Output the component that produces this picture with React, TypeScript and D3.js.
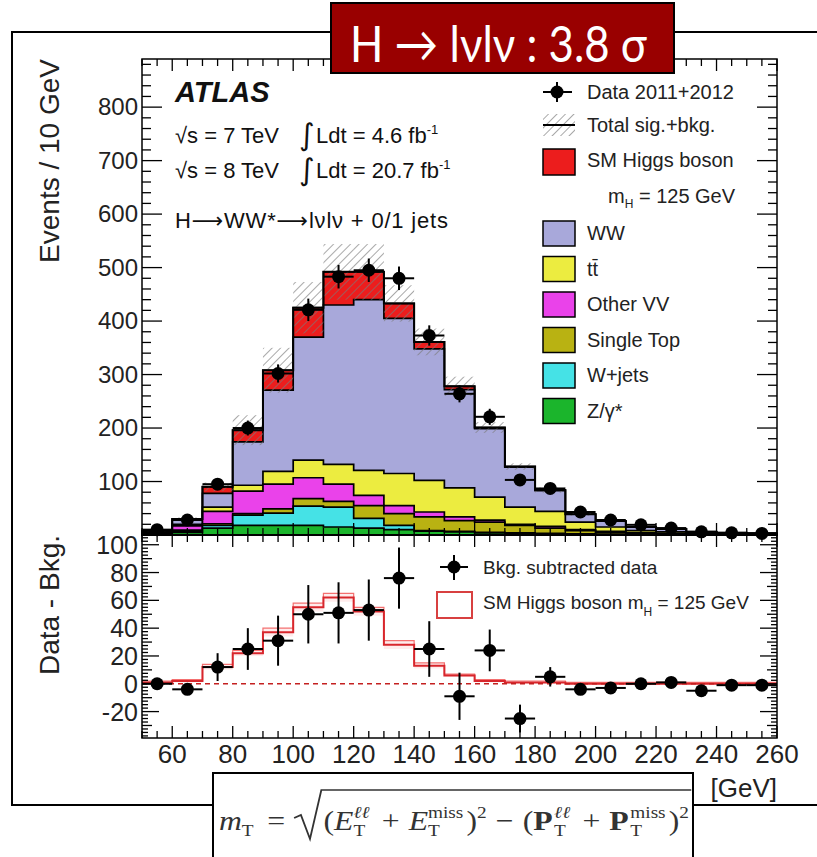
import React from 'react';
import * as d3 from 'd3';

// lower edges of the 10 GeV bins in m_T
const binLow = [50, 60, 70, 80, 90, 100, 110, 120, 130, 140, 150, 160, 170, 180, 190, 200, 210, 220, 230, 240, 250];

// stacked expectation, bottom of the stack first
const zGamma = [2, 5, 13, 18, 18, 18, 15, 13, 10, 7, 6, 4, 3, 2, 1, 1, 1, 0, 0, 0, 0];
const wJets = [1, 2, 5, 19, 23, 36, 37, 18, 8, 1, 1, 1, 1, 1, 1, 0, 0, 0, 0, 0, 0];
const singleTop = [1, 2, 3, 3, 8, 14, 11, 24, 22, 26, 20, 19, 14, 10, 6, 4, 2, 2, 1, 1, 0];
const otherVV = [1, 8, 23, 42, 46, 39, 32, 19, 15, 9, 7, 4, 2, 3, 2, 2, 1, 1, 1, 0, 0];
const ttbar = [1, 3, 8, 11, 24, 33, 37, 47, 60, 59, 54, 43, 32, 28, 14, 8, 4, 3, 1, 1, 1];
const ww = [1, 8, 26, 81, 152, 230, 298, 319, 290, 246, 184, 128, 75, 39, 15, 11, 7, 5, 3, 2, 2];
const higgs = [1, 2, 12, 22, 37, 55, 62, 52, 28, 13, 6, 2, 1, 1, 0, 0, 0, 0, 0, 0, 0];
const totalErr = [1, 3, 8, 28, 42, 48, 52, 52, 34, 25, 18, 10, 6, 5, 3, 2, 2, 1, 1, 1, 1];

// observed events
const dataVals = [10, 28, 95, 200, 302, 421, 483, 495, 480, 373, 264, 221, 103, 87, 43, 28, 19, 13, 6, 4, 3];
const dataErr = [3, 5, 10, 14, 17, 21, 22, 22, 22, 19, 16, 15, 10, 9, 7, 5, 4, 4, 2, 2, 2];

// lower panel: data minus background
const bkgSub = [0, -4, 12, 25, 31, 50, 51, 53, 76, 25, -9, 24, -25, 5, -4, -3, 0, 1, -5, -1, -1];
const bkgSubErr = [4, 4, 10, 15, 18, 21, 22, 22, 22, 20, 17, 15, 10, 7, 4, 4, 3, 3, 3, 2, 2];
const higgsErr = [1, 1, 2, 2, 3, 3, 3, 3, 3, 2, 1, 1, 1, 1, 1, 1, 1, 1, 1, 1, 1];

const yTicksTop = [100, 200, 300, 400, 500, 600, 700, 800];
const yTicksBottom = [-20, 0, 20, 40, 60, 80, 100];
const xTicks = [60, 80, 100, 120, 140, 160, 180, 200, 220, 240, 260];

const keys = ['zGamma', 'wJets', 'singleTop', 'otherVV', 'ttbar', 'ww', 'higgs'];
const colors: Record<string, string> = {
  zGamma: '#1bb52c',
  wJets: '#45e2e6',
  singleTop: '#b9b212',
  otherVV: '#ea42ea',
  ttbar: '#ecec40',
  ww: '#a8a8da',
  higgs: '#ec1d1d',
};
const legendBoxes = [
  { key: 'ww', label: 'WW' },
  { key: 'ttbar', label: 'tt\u0304' },
  { key: 'otherVV', label: 'Other VV' },
  { key: 'singleTop', label: 'Single Top' },
  { key: 'wJets', label: 'W+jets' },
  { key: 'zGamma', label: 'Z/\u03b3*' },
];

const FONT = '"Liberation Sans", Arial, Helvetica, sans-serif';
const BIN = 10;
const X0 = 142, X1 = 777;
const TOP0 = 59, TOP1 = 535;
const BOT0 = 535, BOT1 = 738;

const x = d3.scaleLinear().domain([50, 260]).range([X0, X1]);
const yU = d3.scaleLinear().domain([0, 890]).range([TOP1, TOP0]);
const yL = d3.scaleLinear().domain([-39, 107]).range([BOT1, BOT0]);

const stepPts = (vals: number[]) =>
  vals.flatMap((v, i) => [[binLow[i], v], [binLow[i] + BIN, v]] as [number, number][]);

const stepArea = (vals: number[], y: d3.ScaleLinear<number, number>) =>
  d3.area<[number, number]>().x(d => x(d[0])).y0(y(0)).y1(d => y(d[1]))(stepPts(vals)) || '';

const stepLine = (vals: number[], y: d3.ScaleLinear<number, number>) =>
  d3.line<[number, number]>().x(d => x(d[0])).y(d => y(d[1]))(stepPts(vals)) || '';

function Point({ cx, cy, x0, x1, y0, y1 }: any) {
  return (
    <g stroke="#000" strokeWidth={2}>
      <line x1={x0} x2={x1} y1={cy} y2={cy} />
      <line x1={cx} x2={cx} y1={y0} y2={y1} />
      <circle cx={cx} cy={cy} r={6.5} fill="#000" stroke="none" />
    </g>
  );
}

// formula m_T laid out token by token
function Formula() {
  const F = 28, S = 17;
  const toks: any[] = [];
  let cx = 0;
  const put = (t: string, w: number, o: any = {}) => { toks.push({ t, x: cx, ...o }); cx += w; };
  const stack = (sup: string, supW: number) => {
    toks.push({ t: sup, x: cx, size: S, dy: -12, it: sup !== 'miss' });
    toks.push({ t: 'T', x: cx, size: S, dy: 6 });
    cx += Math.max(supW, 11) + 3;
  };
  put('m', 0.72 * F, { it: true });
  put('T', 0.61 * S + 2, { size: S, dy: 6 });
  cx += 10; put('=', 0.56 * F); cx += 8;
  const radX = cx; cx += 26;
  put('(', 0.33 * F);
  put('E', 0.61 * F, { it: true }); stack('\u2113\u2113', 14);
  cx += 8; put('+', 0.56 * F); cx += 8;
  put('E', 0.61 * F, { it: true }); stack('miss', 31);
  put(')', 0.33 * F); put('2', 0.5 * S, { size: S, dy: -12 });
  cx += 8; put('\u2212', 0.56 * F); cx += 8;
  put('(', 0.33 * F);
  put('P', 0.66 * F, { bold: true }); stack('\u2113\u2113', 14);
  cx += 8; put('+', 0.56 * F); cx += 8;
  put('P', 0.66 * F, { bold: true }); stack('miss', 31);
  put(')', 0.33 * F); put('2', 0.5 * S, { size: S, dy: -12 });
  const endX = cx;
  const sx = (689 - 219) / endX;
  const base = 830;
  return (
    <g transform={`translate(219,0) scale(${sx},1)`} fill="#333" fontFamily='"Liberation Serif", "DejaVu Serif", serif'>
      {toks.map((k, i) => (
        <text key={i} x={k.x} y={base + (k.dy || 0)} fontSize={k.size || F}
          fontStyle={k.it ? 'italic' : 'normal'} fontWeight={k.bold ? 'bold' : 'normal'}>{k.t}</text>
      ))}
      <path d={`M${radX} ${base - 12} L${radX + 6} ${base - 15} L${radX + 14} ${base + 9} L${radX + 24} ${790} L${endX + 2} ${790}`}
        fill="none" stroke="#333" strokeWidth={1.6} />
    </g>
  );
}

export default function App() {
  const rows = binLow.map((b, i) => ({
    zGamma: zGamma[i], wJets: wJets[i], singleTop: singleTop[i], otherVV: otherVV[i],
    ttbar: ttbar[i], ww: ww[i], higgs: higgs[i],
  }));
  const stacked = d3.stack<any>().keys(keys)(rows);
  const total = stacked[stacked.length - 1].map(d => d[1]);

  const hi = higgs.map((v, i) => v + higgsErr[i]);
  const lo = higgs.map((v, i) => v - higgsErr[i]);
  const bandPts = stepPts(higgs);
  const band = d3.area<[number, number]>()
    .x(d => x(d[0]))
    .y0((d, i) => yL(lo[Math.floor(i / 2)]))
    .y1((d, i) => yL(hi[Math.floor(i / 2)]))(bandPts) || '';

  const xMinor = d3.range(50, 261, 5);
  const yMinorU = d3.range(0, 890, 20);
  const yMinorL = d3.range(-37.5, 107, 2.5);

  return (
    <svg width={817} height={857} style={{ position: 'absolute', left: 0, top: 0, background: '#fff' }}>
      <defs>
        <pattern id="hatch" patternUnits="userSpaceOnUse" width={6} height={6} patternTransform="rotate(45)">
          <line x1={0} y1={0} x2={0} y2={6} stroke="#7a7a7a" strokeWidth={1.3} />
        </pattern>
      </defs>
      <rect width={817} height={857} fill="#fff" />
      {/* outer frame */}
      <rect x={12} y={32} width={830} height={773} fill="none" stroke="#000" strokeWidth={2} />

      {/* upper panel: stacked expectation */}
      {stacked.slice().reverse().map(s => (
        <path key={s.key} d={stepArea(s.map(d => d[1]), yU)} fill={colors[s.key]} stroke="#000" strokeWidth={1.7} />
      ))}
      {total.map((t, i) => (
        <rect key={i} x={x(binLow[i])} width={x(binLow[i] + BIN) - x(binLow[i])}
          y={yU(t + totalErr[i])} height={yU(t - totalErr[i]) - yU(t + totalErr[i])} fill="url(#hatch)" />
      ))}
      <path d={stepLine(total, yU)} fill="none" stroke="#000" strokeWidth={2} />
      {dataVals.map((v, i) => (
        <Point key={i} cx={x(binLow[i] + BIN / 2)} cy={yU(v)} x0={x(binLow[i])} x1={x(binLow[i] + BIN)}
          y0={yU(v - dataErr[i])} y1={yU(v + dataErr[i])} />
      ))}

      {/* upper panel axes */}
      <g stroke="#000" strokeWidth={1.3}>
        {yMinorU.map(v => {
          const len = v % 100 === 0 ? 20 : 9;
          return (
            <g key={v}>
              <line x1={X0} x2={X0 + len} y1={yU(v)} y2={yU(v)} />
              <line x1={X1} x2={X1 - len} y1={yU(v)} y2={yU(v)} />
            </g>
          );
        })}
        {xMinor.map(v => {
          const len = v % 20 === 0 ? 12 : 7;
          return (
            <g key={v}>
              <line x1={x(v)} x2={x(v)} y1={TOP0} y2={TOP0 + len} />
              <line x1={x(v)} x2={x(v)} y1={TOP1} y2={TOP1 - len} />
            </g>
          );
        })}
      </g>
      <rect x={X0} y={TOP0} width={X1 - X0} height={TOP1 - TOP0} fill="none" stroke="#000" strokeWidth={1.5} />
      <g fontFamily={FONT} fontSize={24} fill="#222" textAnchor="end">
        {yTicksTop.map(v => <text key={v} x={X0 - 4} y={yU(v) + 8}>{v}</text>)}
      </g>
      <text transform={`translate(59,${TOP0}) rotate(-90)`} textAnchor="end" fontFamily={FONT} fontSize={28} fill="#222">Events / 10 GeV</text>

      {/* ATLAS labels */}
      <g fontFamily={FONT} fill="#111">
        <text x={175} y={102} fontSize={29} fontWeight="bold" fontStyle="italic">ATLAS</text>
        <text x={175} y={143} fontSize={22}>{'\u221As = 7 TeV'}</text>
        <text x={299} y={145} fontSize={30} fontFamily='"DejaVu Sans", sans-serif'>{'\u222B'}</text>
        <text x={316} y={143} fontSize={22}>Ldt = 4.6 fb<tspan dy={-9} fontSize={13}>-1</tspan></text>
        <text x={175} y={178} fontSize={22}>{'\u221As = 8 TeV'}</text>
        <text x={299} y={180} fontSize={30} fontFamily='"DejaVu Sans", sans-serif'>{'\u222B'}</text>
        <text x={316} y={178} fontSize={22}>Ldt = 20.7 fb<tspan dy={-9} fontSize={13}>-1</tspan></text>
        <text x={175} y={228} fontSize={22} textLength={273} lengthAdjust="spacing">
          H<tspan fontFamily='"DejaVu Sans", sans-serif'>{'\u27f6'}</tspan>WW*<tspan fontFamily='"DejaVu Sans", sans-serif'>{'\u27f6'}</tspan>{'l\u03bdl\u03bd + 0/1 jets'}
        </text>
      </g>

      {/* upper legend */}
      <g fontFamily={FONT} fontSize={20} fill="#222">
        <Point cx={557} cy={92} x0={543} x1={572} y0={82} y1={102} />
        <text x={587} y={99}>Data 2011+2012</text>
        <rect x={543} y={114} width={32} height={22} fill="url(#hatch)" />
        <line x1={543} x2={575} y1={125} y2={125} stroke="#000" strokeWidth={2} />
        <text x={587} y={132}>Total sig.+bkg.</text>
        <rect x={543} y={149} width={32} height={26} fill={colors.higgs} stroke="#000" strokeWidth={1.5} />
        <text x={587} y={167}>SM Higgs boson</text>
        <text x={608} y={203}>m<tspan dy={5} fontSize={12}>H</tspan><tspan dy={-5}> = 125 GeV</tspan></text>
        {legendBoxes.map((e, i) => (
          <g key={e.key}>
            <rect x={543} y={221 + i * 35.5} width={32} height={25} fill={colors[e.key]} stroke="#000" strokeWidth={1.5} />
            <text x={587} y={240 + i * 35.5}>{e.label}</text>
          </g>
        ))}
      </g>

      {/* lower panel */}
      <path d={band} fill="#ff6060" fillOpacity={0.12} stroke="none" />
      <path d={stepLine(hi, yL)} fill="none" stroke="#f47070" strokeWidth={1.2} />
      <path d={stepLine(higgs, yL)} fill="none" stroke="#d8262c" strokeWidth={2} />
      <line x1={X0} x2={X1} y1={yL(0)} y2={yL(0)} stroke="#c42020" strokeWidth={1.5} strokeDasharray="5,4" />
      {bkgSub.map((v, i) => (
        <Point key={i} cx={x(binLow[i] + BIN / 2)} cy={yL(v)} x0={x(binLow[i])} x1={x(binLow[i] + BIN)}
          y0={yL(v - bkgSubErr[i])} y1={yL(v + bkgSubErr[i])} />
      ))}
      <g stroke="#000" strokeWidth={1.3}>
        {yMinorL.map(v => {
          const len = v % 20 === 0 ? 17 : v % 10 === 0 ? 10 : 6;
          return (
            <g key={v}>
              <line x1={X0} x2={X0 + len} y1={yL(v)} y2={yL(v)} />
              <line x1={X1} x2={X1 - len} y1={yL(v)} y2={yL(v)} />
            </g>
          );
        })}
        {xMinor.map(v => {
          const len = v % 20 === 0 ? 12 : 7;
          return (
            <g key={v}>
              <line x1={x(v)} x2={x(v)} y1={BOT1} y2={BOT1 - len} />
              <line x1={x(v)} x2={x(v)} y1={BOT0} y2={BOT0 + len} />
            </g>
          );
        })}
      </g>
      <rect x={X0} y={BOT0} width={X1 - X0} height={BOT1 - BOT0} fill="none" stroke="#000" strokeWidth={1.5} />
      <g fontFamily={FONT} fontSize={25} fill="#222" textAnchor="end">
        {yTicksBottom.map(v => <text key={v} x={X0 - 4} y={yL(v) + 9}>{v}</text>)}
      </g>
      <g fontFamily={FONT} fontSize={26} fill="#222" textAnchor="middle">
        {xTicks.map(v => <text key={v} x={x(v)} y={763}>{v}</text>)}
      </g>
      <text x={X1} y={797} textAnchor="end" fontFamily={FONT} fontSize={26} fill="#222">[GeV]</text>
      <text transform={`translate(59,${BOT0}) rotate(-90)`} textAnchor="end" fontFamily={FONT} fontSize={28} fill="#222">Data - Bkg.</text>

      {/* lower legend */}
      <g fontFamily={FONT} fontSize={19} fill="#222">
        <Point cx={454} cy={567} x0={440} x1={468} y0={555} y1={580} />
        <text x={483} y={574}>Bkg. subtracted data</text>
        <rect x={437} y={592} width={35} height={26} fill="#fff" stroke="#d84040" strokeWidth={2} />
        <text x={483} y={609}>SM Higgs boson m<tspan dy={7} fontSize={12}>H</tspan><tspan dy={-7}> = 125 GeV</tspan></text>
      </g>

      {/* formula box */}
      <rect x={213} y={773} width={480} height={110} fill="#fff" stroke="#000" strokeWidth={2} />
      <Formula />

      {/* title box */}
      <rect x={331} y={3} width={343} height={70} fill="#990000" stroke="#000" strokeWidth={2} />
      <text x={350} y={62} fontFamily='Lato, "Open Sans", sans-serif' fontSize={50} fill="#fff"
        textLength={297} lengthAdjust="spacingAndGlyphs">{'H \u2192 l\u03bdl\u03bd : 3.8 \u03c3'}</text>
    </svg>
  );
}
